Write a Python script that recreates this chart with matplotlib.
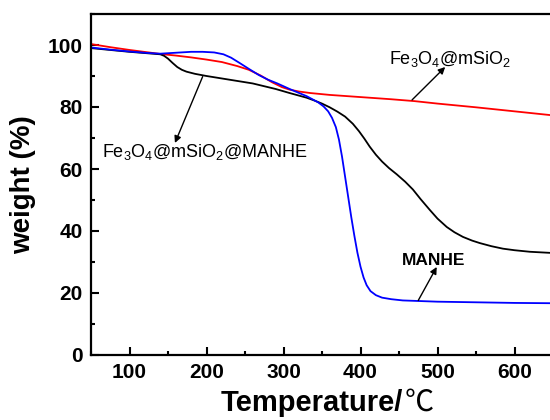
import matplotlib
matplotlib.use("Agg")
import matplotlib.pyplot as plt
from matplotlib.ticker import MultipleLocator

# TGA curves
tempRed = [50, 75, 100, 125, 140, 160, 180, 200, 220, 240, 255, 270, 285, 298,
           308, 320, 335, 360, 400, 440, 470, 500, 550, 600, 650]
weightRed = [100.3, 99.3, 98.4, 97.6, 97.1, 96.6, 96.0, 95.3, 94.5, 93.2, 92.0,
             90.2, 88.0, 86.4, 85.6, 85.0, 84.5, 83.9, 83.2, 82.5, 81.9, 81.1,
             79.9, 78.6, 77.3]

tempBlue = [50, 75, 100, 125, 140, 160, 180, 195, 210, 222, 232, 243, 255, 268,
            280, 292, 308, 330, 345, 352, 358, 363, 368, 372, 376, 380, 384,
            388, 392, 396, 400, 404, 408, 413, 420, 428, 440, 455, 500, 550,
            600, 650]
weightBlue = [99.2, 98.5, 97.9, 97.4, 97.2, 97.5, 97.8, 97.8, 97.6, 97.0, 95.9,
              94.2, 92.3, 90.3, 88.8, 87.6, 85.8, 83.5, 81.5, 80.2, 78.6, 76.5,
              73.5, 69.5, 64.0, 57.5, 51.0, 44.5, 38.5, 33.0, 28.5, 25.0, 22.5,
              20.6, 19.3, 18.5, 18.0, 17.6, 17.2, 17.0, 16.8, 16.7]

tempBlack = [50, 75, 100, 125, 140, 145, 150, 156, 162, 168, 174, 185, 200, 230,
             260, 290, 308, 330, 340, 350, 360, 370, 380, 390, 398, 405, 412,
             420, 428, 437, 447, 458, 468, 478, 490, 500, 512, 522, 533, 545,
             555, 570, 585, 600, 620, 650]
weightBlack = [99.0, 98.4, 97.8, 97.3, 97.0, 96.5, 95.6, 94.2, 92.9, 92.0, 91.4,
               90.7, 90.0, 88.8, 87.6, 85.8, 84.5, 83.0, 82.1, 81.1, 79.9, 78.5,
               76.9, 74.6, 72.2, 69.8, 67.2, 64.6, 62.4, 60.3, 58.3, 55.9, 53.4,
               50.3, 46.8, 44.0, 41.3, 39.6, 38.1, 36.9, 36.1, 35.1, 34.3, 33.8,
               33.3, 32.9]

plt.rcParams['font.family'] = ['Liberation Sans', 'Noto Sans CJK SC', 'DejaVu Sans']
plt.rcParams['mathtext.default'] = 'regular'

fig = plt.figure(figsize=(5.5, 4.2), dpi=100)
ax = fig.add_axes([91 / 550, 65 / 420, 462 / 550, 341 / 420])

ax.plot(tempRed, weightRed, color='#ff0000', lw=1.3)
ax.plot(tempBlack, weightBlack, color='black', lw=1.3)
ax.plot(tempBlue, weightBlue, color='#0000ff', lw=1.3)

ax.set_xlim(50, 650)
ax.set_ylim(0, 110)
ax.xaxis.set_major_locator(MultipleLocator(100))
ax.xaxis.set_minor_locator(MultipleLocator(50))
ax.yaxis.set_major_locator(MultipleLocator(20))
ax.yaxis.set_minor_locator(MultipleLocator(10))
ax.tick_params(which='both', direction='in', width=1.5, labelsize=15, pad=6)
ax.tick_params(which='major', length=6)
ax.tick_params(which='minor', length=3)
for lab in ax.get_xticklabels() + ax.get_yticklabels():
    lab.set_fontweight('bold')
for sp in ax.spines.values():
    sp.set_linewidth(1.6)

# x label: bold latin part, thin degree-celsius sign
fig.text(403 / 550, 9 / 420, 'Temperature/', fontsize=21, fontweight='bold',
         ha='right', va='baseline')
fig.text(405 / 550, 9 / 420, '℃', fontsize=21, family=['Noto Sans CJK SC'],
         fontweight='light', ha='left', va='baseline')
ax.set_ylabel('weight (%)', fontsize=20, fontweight='bold', labelpad=8)

arrowProps = dict(arrowstyle='-|>', color='black', lw=1.0, mutation_scale=10,
                  shrinkA=0, shrinkB=0)
ax.annotate('', xy=(510, 92.9), xytext=(467, 82.3), arrowprops=arrowProps)
ax.text(516, 95.6, 'Fe$_3$O$_4$@mSiO$_2$', fontsize=13, ha='center', va='center')

ax.annotate('', xy=(159, 68.4), xytext=(195, 89.8), arrowprops=arrowProps)
ax.text(198, 65.5, 'Fe$_3$O$_4$@mSiO$_2$@MANHE', fontsize=13, ha='center', va='center')

ax.annotate('', xy=(499, 28.4), xytext=(475, 17.6), arrowprops=arrowProps)
ax.text(495, 30.5, 'MANHE', fontsize=12.5, fontweight='bold', ha='center', va='center')

fig.savefig('out.png', dpi=100)
